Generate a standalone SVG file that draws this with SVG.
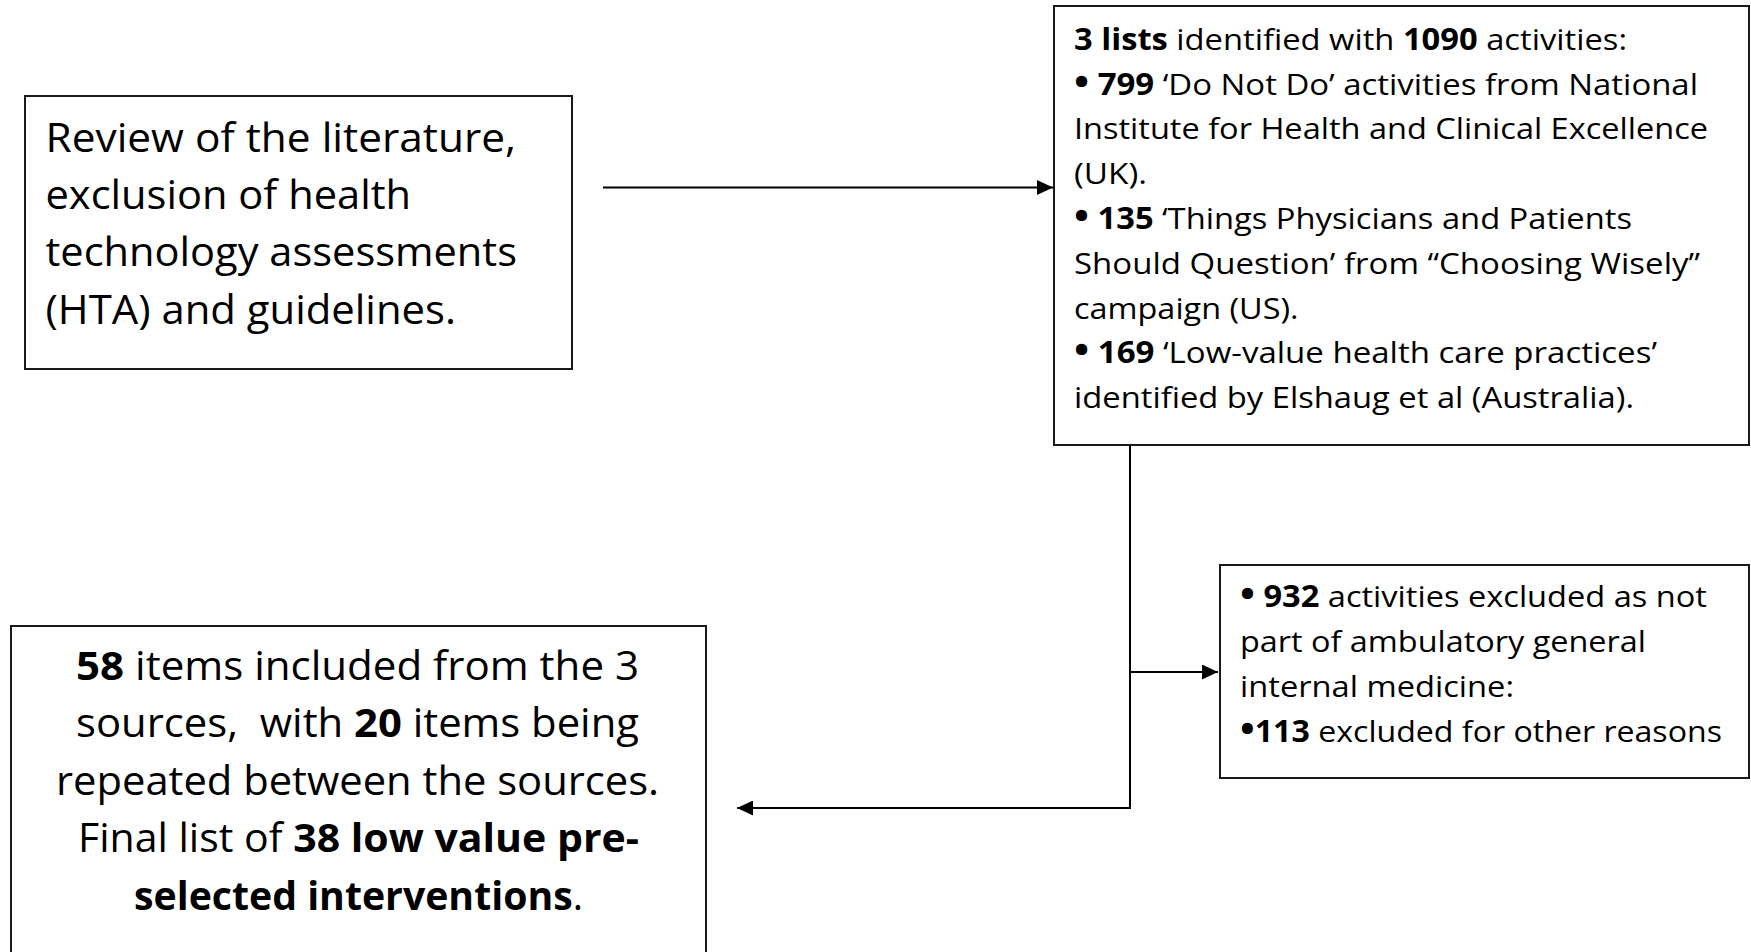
<svg xmlns="http://www.w3.org/2000/svg" width="1751" height="952" viewBox="0 0 1751 952">
<style>
.box{fill:#fff;stroke:#1a1a1a;stroke-width:2}
.big{font-family:"Open Sans","Liberation Sans",sans-serif;font-size:40px;fill:#000}
.sm{font-family:"Open Sans","Liberation Sans",sans-serif;font-size:29.5px;fill:#000}
.b{font-weight:bold}
.bul{font-weight:bold;font-size:36px}
.conn{fill:none;stroke:#000;stroke-width:2}
</style>
<defs>
<marker id="arr" markerUnits="userSpaceOnUse" markerWidth="16" markerHeight="15" refX="16" refY="7.5" orient="auto">
<path d="M0,0 L16,7.5 L0,15 z" fill="#000"/>
</marker>
</defs>
<rect width="1751" height="952" fill="#fff"/>

<g id="connectors">
<line class="conn" x1="603" y1="187.5" x2="1053" y2="187.5" marker-end="url(#arr)"/>
<polyline class="conn" points="1130,445 1130,808 737,808" marker-end="url(#arr)"/>
<line class="conn" x1="1130" y1="672" x2="1218" y2="672" marker-end="url(#arr)"/>
</g>

<g id="node-review">
<rect class="box" x="25" y="96" width="547" height="273"/>
<text class="big" x="45.5" y="151.7" textLength="470.5" lengthAdjust="spacingAndGlyphs">Review of the literature,</text>
<text class="big" x="45.5" y="209" textLength="365.5" lengthAdjust="spacingAndGlyphs">exclusion of health</text>
<text class="big" x="45.5" y="266.3" textLength="471.5" lengthAdjust="spacingAndGlyphs">technology assessments</text>
<text class="big" x="45.5" y="323.6" textLength="410.5" lengthAdjust="spacingAndGlyphs">(HTA) and guidelines.</text>
</g>

<g id="node-lists">
<rect class="box" x="1054" y="6" width="695" height="439"/>
<text class="sm" x="1074" y="50" textLength="553" lengthAdjust="spacingAndGlyphs"><tspan class="b">3 lists</tspan> identified with <tspan class="b">1090</tspan> activities:</text>
<text class="sm" x="1074" y="94.5" textLength="624" lengthAdjust="spacingAndGlyphs"><tspan class="bul">•</tspan> <tspan class="b">799</tspan> ‘Do Not Do’ activities from National</text>
<text class="sm" x="1074" y="139.3" textLength="634" lengthAdjust="spacingAndGlyphs">Institute for Health and Clinical Excellence</text>
<text class="sm" x="1074" y="184" textLength="73" lengthAdjust="spacingAndGlyphs">(UK).</text>
<text class="sm" x="1074" y="229" textLength="558" lengthAdjust="spacingAndGlyphs"><tspan class="bul">•</tspan> <tspan class="b">135</tspan> ‘Things Physicians and Patients</text>
<text class="sm" x="1074" y="273.5" textLength="626" lengthAdjust="spacingAndGlyphs">Should Question’ from “Choosing Wisely”</text>
<text class="sm" x="1074" y="318.5" textLength="224.5" lengthAdjust="spacingAndGlyphs">campaign (US).</text>
<text class="sm" x="1074" y="363" textLength="583" lengthAdjust="spacingAndGlyphs"><tspan class="bul">•</tspan> <tspan class="b">169</tspan> ‘Low-value health care practices’</text>
<text class="sm" x="1074" y="408" textLength="560" lengthAdjust="spacingAndGlyphs">identified by Elshaug et al (Australia).</text>
</g>

<g id="node-excluded">
<rect class="box" x="1220" y="565" width="529" height="213"/>
<text class="sm" x="1240" y="607" textLength="467" lengthAdjust="spacingAndGlyphs"><tspan class="bul">•</tspan> <tspan class="b">932</tspan> activities excluded as not</text>
<text class="sm" x="1240" y="652" textLength="406" lengthAdjust="spacingAndGlyphs">part of ambulatory general</text>
<text class="sm" x="1240" y="697" textLength="274" lengthAdjust="spacingAndGlyphs">internal medicine:</text>
<text class="sm" x="1240" y="742" textLength="482" lengthAdjust="spacingAndGlyphs"><tspan class="bul">•</tspan><tspan class="b">113</tspan> excluded for other reasons</text>
</g>

<g id="node-final">
<rect class="box" x="11" y="626" width="695" height="340"/>
<text class="big" x="76" y="679.5" textLength="563" lengthAdjust="spacingAndGlyphs"><tspan class="b">58</tspan> items included from the 3</text>
<text class="big" x="76" y="737" textLength="563" lengthAdjust="spacingAndGlyphs" style="white-space:pre">sources,  with <tspan class="b">20</tspan> items being</text>
<text class="big" x="56" y="794.5" textLength="603" lengthAdjust="spacingAndGlyphs">repeated between the sources.</text>
<text class="big" x="78" y="852" textLength="561" lengthAdjust="spacingAndGlyphs">Final list of <tspan class="b">38 low value pre-</tspan></text>
<text class="big" x="134" y="909.5" textLength="449" lengthAdjust="spacingAndGlyphs"><tspan class="b">selected interventions</tspan>.</text>
</g>
</svg>
